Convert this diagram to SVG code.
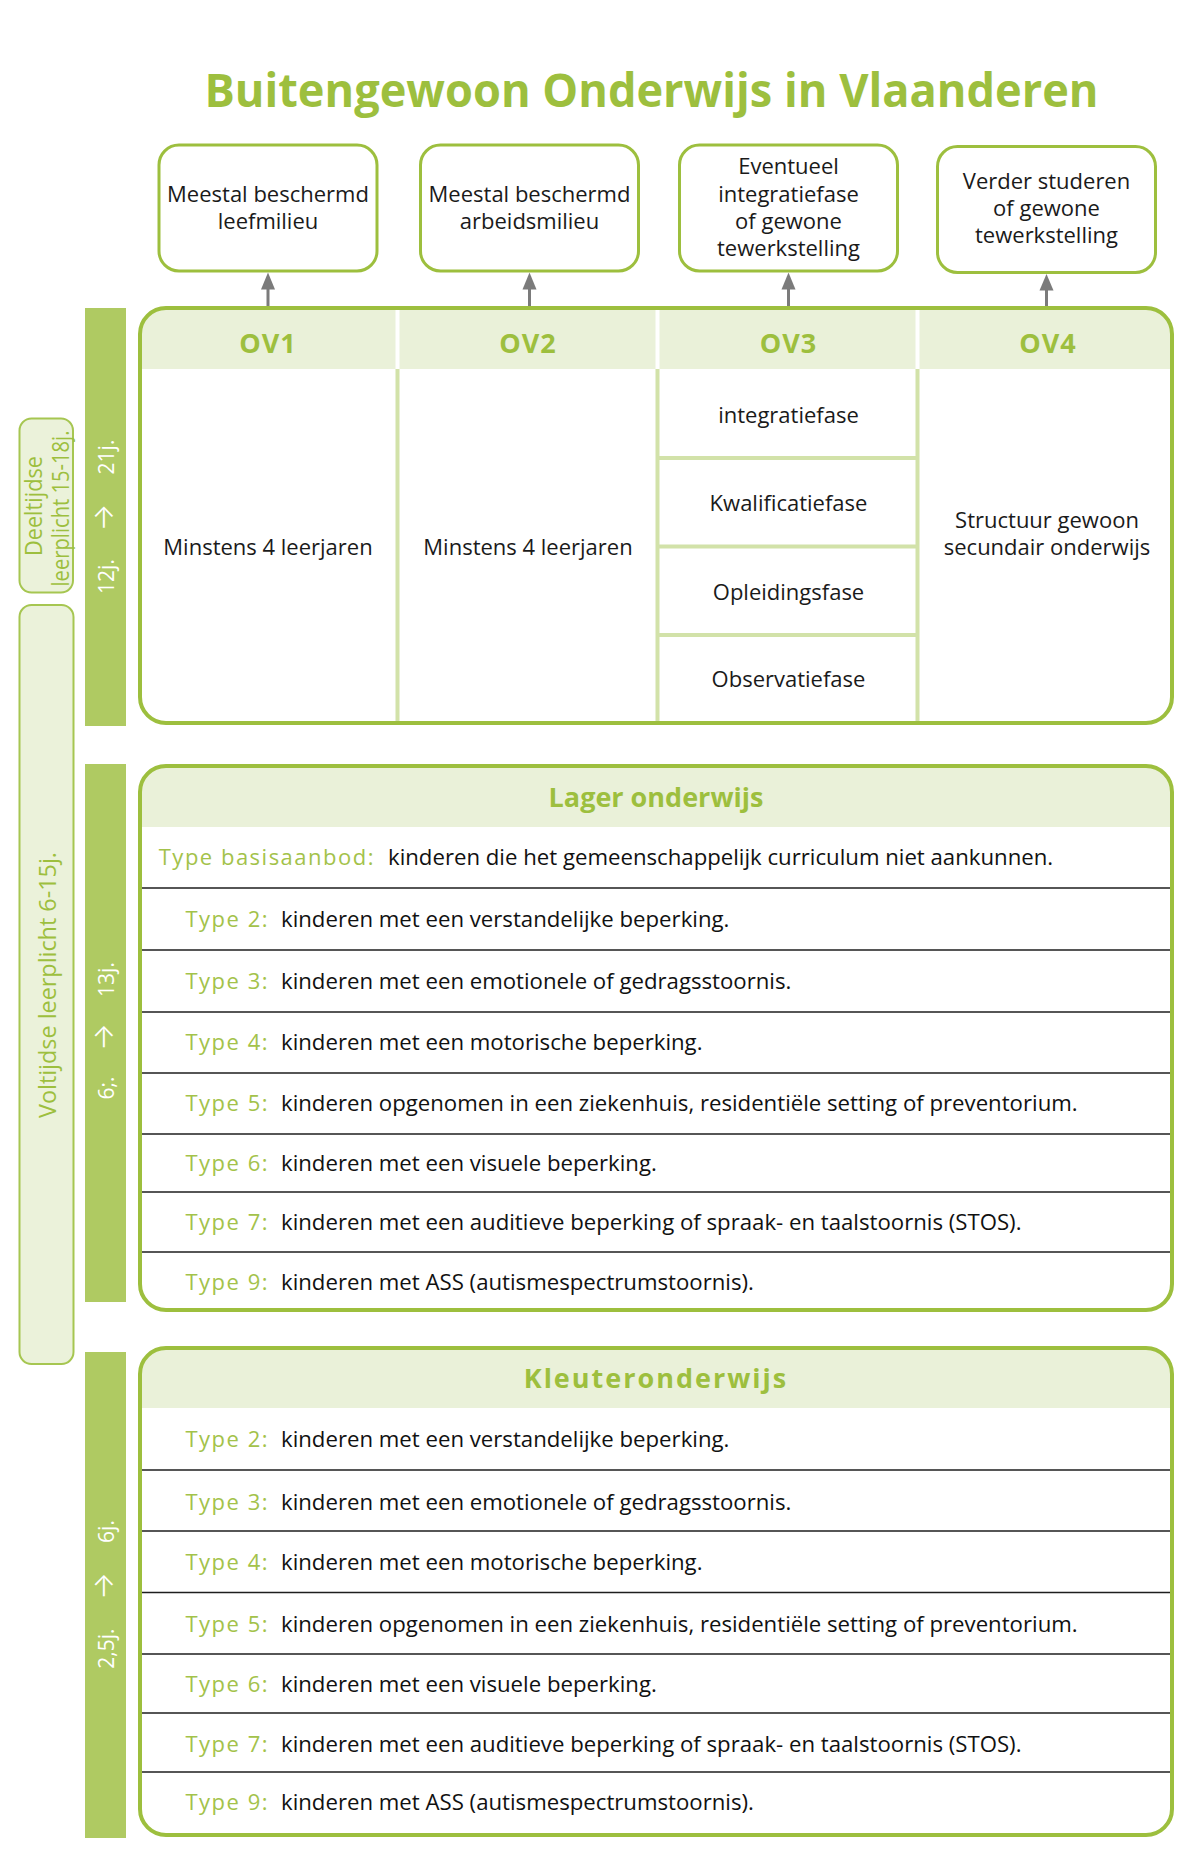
<svg xmlns="http://www.w3.org/2000/svg" width="1188" height="1860" viewBox="0 0 1188 1860">
<defs>
<style>
text{font-family:"Open Sans","Noto Sans",sans-serif;}
.title{font-size:46px;font-weight:700;fill:#9dbf3e;}
.box{fill:#fff;stroke:#9dbf3e;stroke-width:3;}
.btxt{font-size:22px;fill:#1a1a1a;text-anchor:middle;}
.main{fill:none;stroke:#9dbf3e;stroke-width:4;}
.hdr{fill:#eaf1d9;}
.ovh{font-size:27px;font-weight:700;fill:#9dbf3e;text-anchor:middle;letter-spacing:1px;}
.cell{font-size:22px;fill:#1a1a1a;text-anchor:middle;}
.div{stroke:#d2e2a9;stroke-width:4;}
.divw{stroke:#fff;stroke-width:4;}
.bar{fill:#afca62;}
.bl{font-size:21px;fill:#fff;text-anchor:middle;}
.ar{font-family:"Inter","DejaVu Sans",sans-serif;font-size:29px;font-weight:300;fill:#fff;text-anchor:middle;}
.side{fill:#ebf2da;stroke:#a6c651;stroke-width:2;}
.st{fill:#9dbf3e;text-anchor:middle;}
.sec{font-size:27px;font-weight:700;fill:#9dbf3e;text-anchor:middle;}
.row{stroke:#1e1e1e;stroke-width:1.6;}
.ty{font-size:22px;fill:#a3c24a;letter-spacing:1.5px;text-anchor:end;}
.tx{font-size:22.2px;fill:#111;}
.conn{stroke:#7b7b7b;stroke-width:3;fill:none;}
.head{fill:#7b7b7b;}
</style>
<clipPath id="cOV"><rect x="140" y="308" width="1032" height="415" rx="26"/></clipPath>
<clipPath id="cLG"><rect x="140" y="766" width="1032" height="544" rx="26"/></clipPath>
<clipPath id="cKL"><rect x="140" y="1348" width="1032" height="487" rx="26"/></clipPath>
</defs>
<rect width="1188" height="1860" fill="#fff"/>

<text id="title" class="title" x="651.5" y="107" text-anchor="middle" textLength="894" lengthAdjust="spacingAndGlyphs">Buitengewoon Onderwijs in Vlaanderen</text>

<g id="out1">
<rect class="box" x="159" y="145" width="218" height="126" rx="20"/>
<text class="btxt" x="268" y="202">Meestal beschermd</text>
<text class="btxt" x="268" y="229">leefmilieu</text>
</g>
<g id="out2">
<rect class="box" x="420.5" y="145" width="218" height="126" rx="20"/>
<text class="btxt" x="529.5" y="202">Meestal beschermd</text>
<text class="btxt" x="529.5" y="229">arbeidsmilieu</text>
</g>
<g id="out3">
<rect class="box" x="679.5" y="145" width="218" height="126" rx="20"/>
<text class="btxt" x="788.5" y="173.5">Eventueel</text>
<text class="btxt" x="788.5" y="201.5">integratiefase</text>
<text class="btxt" x="788.5" y="228.5">of gewone</text>
<text class="btxt" x="788.5" y="256">tewerkstelling</text>
</g>
<g id="out4">
<rect class="box" x="937.5" y="146.5" width="218" height="126" rx="20"/>
<text class="btxt" x="1046.5" y="188.5">Verder studeren</text>
<text class="btxt" x="1046.5" y="216">of gewone</text>
<text class="btxt" x="1046.5" y="243">tewerkstelling</text>
</g>

<g id="connectors">
<line class="conn" x1="268" y1="306" x2="268" y2="288"/>
<path class="head" d="M268 272.5 L275 289.5 L261 289.5 Z"/>
<line class="conn" x1="529.5" y1="306" x2="529.5" y2="288"/>
<path class="head" d="M529.5 272.5 L536.5 289.5 L522.5 289.5 Z"/>
<line class="conn" x1="788.5" y1="306" x2="788.5" y2="288"/>
<path class="head" d="M788.5 272.5 L795.5 289.5 L781.5 289.5 Z"/>
<line class="conn" x1="1046.5" y1="306" x2="1046.5" y2="289"/>
<path class="head" d="M1046.5 274 L1053.5 290.5 L1039.5 290.5 Z"/>
</g>

<g id="ov">
<rect x="140" y="308" width="1032" height="415" rx="26" fill="#fff"/>
<rect class="hdr" x="140" y="308" width="1032" height="61" clip-path="url(#cOV)"/>
<line class="divw" x1="397.5" y1="310" x2="397.5" y2="369"/>
<line class="divw" x1="657.5" y1="310" x2="657.5" y2="369"/>
<line class="divw" x1="917.5" y1="310" x2="917.5" y2="369"/>
<line class="div" x1="397.5" y1="369" x2="397.5" y2="721"/>
<line class="div" x1="657.5" y1="369" x2="657.5" y2="721"/>
<line class="div" x1="917.5" y1="369" x2="917.5" y2="721"/>
<line class="div" x1="657.5" y1="458" x2="917.5" y2="458"/>
<line class="div" x1="657.5" y1="546.5" x2="917.5" y2="546.5"/>
<line class="div" x1="657.5" y1="635" x2="917.5" y2="635"/>
<rect class="main" x="140" y="308" width="1032" height="415" rx="26"/>
<text class="ovh" x="268" y="353">OV1</text>
<text class="ovh" x="528" y="353">OV2</text>
<text class="ovh" x="788.5" y="353">OV3</text>
<text class="ovh" x="1048" y="353">OV4</text>
<text class="cell" x="268" y="555">Minstens 4 leerjaren</text>
<text class="cell" x="528" y="555">Minstens 4 leerjaren</text>
<text class="cell" x="788.5" y="423">integratiefase</text>
<text class="cell" x="788.5" y="511">Kwalificatiefase</text>
<text class="cell" x="788.5" y="600">Opleidingsfase</text>
<text class="cell" x="788.5" y="687">Observatiefase</text>
<text class="cell" x="1047" y="528">Structuur gewoon</text>
<text class="cell" x="1047" y="555">secundair onderwijs</text>
</g>

<g id="deeltijdse">
<rect class="side" x="19.5" y="418.5" width="53.5" height="174" rx="12"/>
<text class="st" font-size="23" transform="translate(42,506) rotate(-90)" x="0" y="0" textLength="100" lengthAdjust="spacingAndGlyphs">Deeltijdse</text>
<text class="st" font-size="23" transform="translate(68.5,508.5) rotate(-90)" x="0" y="0" textLength="156" lengthAdjust="spacingAndGlyphs">leerplicht 15-18j.</text>
</g>

<g id="voltijdse">
<rect class="side" x="19.5" y="605" width="54" height="759" rx="12"/>
<text class="st" font-size="23" transform="translate(55.5,985) rotate(-90)" x="0" y="0" textLength="266" lengthAdjust="spacingAndGlyphs">Voltijdse leerplicht 6-15j.</text>
</g>

<g id="bar-sec">
<rect class="bar" x="85" y="308" width="41" height="418"/>
<g transform="translate(113.5,516) rotate(-90)">
<text class="bl" x="-60.5" y="0">12j.</text>
<text class="ar" x="-1.5" y="-0.5">→</text>
<text class="bl" x="59" y="0">21j.</text>
</g>
</g>

<g id="bar-lager">
<rect class="bar" x="85" y="764" width="41" height="538"/>
<g transform="translate(113.5,1033) rotate(-90)">
<text class="bl" x="-55" y="0">6;.</text>
<text class="ar" x="-4" y="-0.5">→</text>
<text class="bl" x="53.5" y="0">13j.</text>
</g>
</g>

<g id="bar-kleuter">
<rect class="bar" x="85" y="1352" width="41" height="486"/>
<g transform="translate(113.5,1595) rotate(-90)">
<text class="bl" x="-53.5" y="0">2,5j.</text>
<text class="ar" x="9" y="-0.5">→</text>
<text class="bl" x="63.5" y="0">6j.</text>
</g>
</g>

<g id="lager">
<rect x="140" y="766" width="1032" height="544" rx="26" fill="#fff"/>
<rect class="hdr" x="140" y="766" width="1032" height="61" clip-path="url(#cLG)"/>
<line class="row" x1="141" y1="888" x2="1171" y2="888"/>
<line class="row" x1="141" y1="950" x2="1171" y2="950"/>
<line class="row" x1="141" y1="1012" x2="1171" y2="1012"/>
<line class="row" x1="141" y1="1073" x2="1171" y2="1073"/>
<line class="row" x1="141" y1="1134" x2="1171" y2="1134"/>
<line class="row" x1="141" y1="1192" x2="1171" y2="1192"/>
<line class="row" x1="141" y1="1252" x2="1171" y2="1252"/>
<rect class="main" x="140" y="766" width="1032" height="544" rx="26"/>
<text class="sec" x="656" y="807">Lager onderwijs</text>
<text class="ty" x="375" y="865">Type basisaanbod:</text><text class="tx" x="388" y="865">kinderen die het gemeenschappelijk curriculum niet aankunnen.</text>
<text class="ty" x="269" y="926.5">Type 2:</text><text class="tx" x="281" y="926.5">kinderen met een verstandelijke beperking.</text>
<text class="ty" x="269" y="988.5">Type 3:</text><text class="tx" x="281" y="988.5">kinderen met een emotionele of gedragsstoornis.</text>
<text class="ty" x="269" y="1050">Type 4:</text><text class="tx" x="281" y="1050">kinderen met een motorische beperking.</text>
<text class="ty" x="269" y="1111">Type 5:</text><text class="tx" x="281" y="1111">kinderen opgenomen in een ziekenhuis, residentiële setting of preventorium.</text>
<text class="ty" x="269" y="1170.5">Type 6:</text><text class="tx" x="281" y="1170.5">kinderen met een visuele beperking.</text>
<text class="ty" x="269" y="1230">Type 7:</text><text class="tx" x="281" y="1230">kinderen met een auditieve beperking of spraak- en taalstoornis (STOS).</text>
<text class="ty" x="269" y="1289.5">Type 9:</text><text class="tx" x="281" y="1289.5">kinderen met ASS (autismespectrumstoornis).</text>
</g>

<g id="kleuter">
<rect x="140" y="1348" width="1032" height="487" rx="26" fill="#fff"/>
<rect class="hdr" x="140" y="1348" width="1032" height="60" clip-path="url(#cKL)"/>
<line class="row" x1="141" y1="1470" x2="1171" y2="1470"/>
<line class="row" x1="141" y1="1531" x2="1171" y2="1531"/>
<line class="row" x1="141" y1="1592.5" x2="1171" y2="1592.5"/>
<line class="row" x1="141" y1="1654" x2="1171" y2="1654"/>
<line class="row" x1="141" y1="1713" x2="1171" y2="1713"/>
<line class="row" x1="141" y1="1772" x2="1171" y2="1772"/>
<rect class="main" x="140" y="1348" width="1032" height="487" rx="26"/>
<text class="sec" x="656" y="1388" letter-spacing="2">Kleuteronderwijs</text>
<text class="ty" x="269" y="1447">Type 2:</text><text class="tx" x="281" y="1447">kinderen met een verstandelijke beperking.</text>
<text class="ty" x="269" y="1509.5">Type 3:</text><text class="tx" x="281" y="1509.5">kinderen met een emotionele of gedragsstoornis.</text>
<text class="ty" x="269" y="1570">Type 4:</text><text class="tx" x="281" y="1570">kinderen met een motorische beperking.</text>
<text class="ty" x="269" y="1631.5">Type 5:</text><text class="tx" x="281" y="1631.5">kinderen opgenomen in een ziekenhuis, residentiële setting of preventorium.</text>
<text class="ty" x="269" y="1691.5">Type 6:</text><text class="tx" x="281" y="1691.5">kinderen met een visuele beperking.</text>
<text class="ty" x="269" y="1751.5">Type 7:</text><text class="tx" x="281" y="1751.5">kinderen met een auditieve beperking of spraak- en taalstoornis (STOS).</text>
<text class="ty" x="269" y="1810">Type 9:</text><text class="tx" x="281" y="1810">kinderen met ASS (autismespectrumstoornis).</text>
</g>
</svg>
